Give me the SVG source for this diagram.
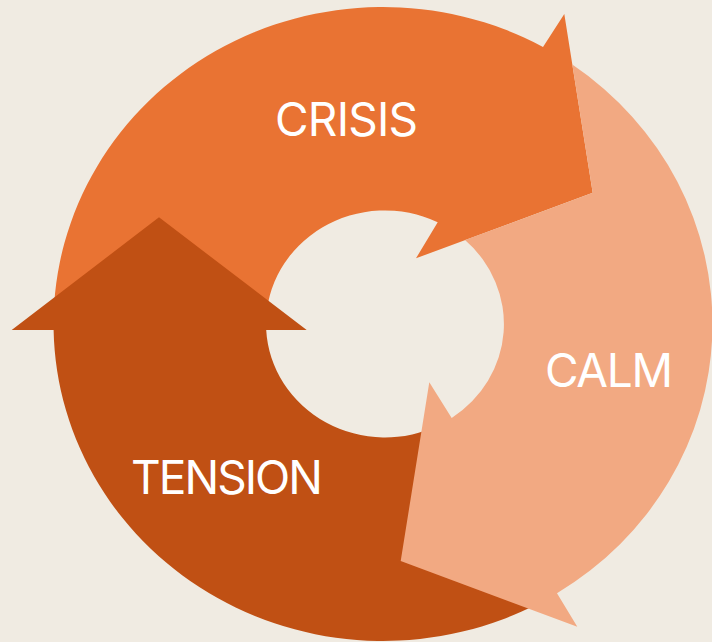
<svg xmlns="http://www.w3.org/2000/svg" width="712" height="642" viewBox="0 0 712 642">
  <style>
    .lbl { font-family: Inter, "Liberation Sans", sans-serif; font-size: 46px; font-weight: 400; fill: #FFFFFF; text-anchor: middle; }
    .crisis { fill: #E97333; }
    .calm { fill: #F2A982; }
    .tension { fill: #C05014; }
  </style>
  <rect x="0" y="0" width="712" height="642" fill="#F0EBE2"/>
  <g id="connectors"></g>
  <g id="crisis">
    <path class="crisis" d="M 53.5 324 A 329.5 317 0 0 1 543 46.9 L 564.3 14 L 592.7 192.7 L 416 258.3 L 437.7 222.2 A 119 113.5 0 0 0 266 324 Z"/>
    <text class="lbl" x="346.5" y="136" textLength="143">CRISIS</text>
  </g>
  <g id="tension">
    <path class="tension" d="M 266.2 330 L 306.7 330 L 159 217.3 L 11.7 330 L 53.6 330 A 329.5 317 0 0 0 540 602.7 L 440 424.6 A 119 113.5 0 0 1 266.2 330 Z"/>
    <text class="lbl" x="227" y="494" textLength="192">TENSION</text>
  </g>
  <g id="calm">
    <path class="calm" d="M 572.3 64.6 A 329.5 317 0 0 1 557 593.2 L 577.3 626.7 L 400.7 561 L 429.3 382.3 L 451.7 418 A 119 113.5 0 0 0 465 240.1 L 592.7 192.7 Z"/>
    <text class="lbl" x="609" y="387" textLength="128">CALM</text>
  </g>
</svg>
